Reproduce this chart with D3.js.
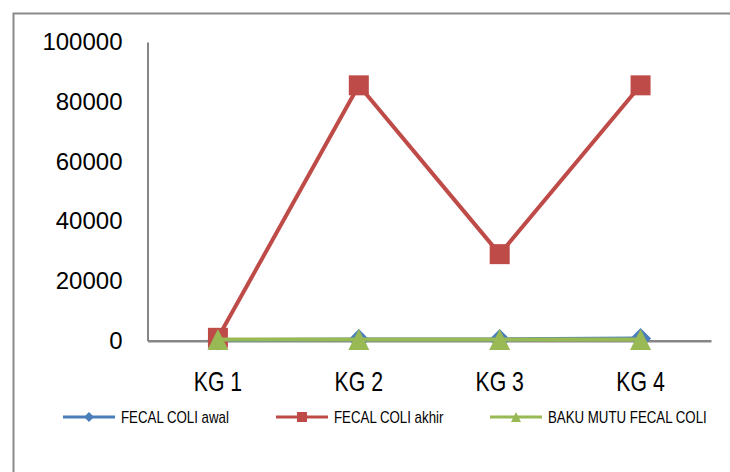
<!DOCTYPE html>
<html>
<head>
<meta charset="utf-8">
<script src="https://cdn.jsdelivr.net/npm/d3@7"></script>
<style>
  html, body { margin: 0; padding: 0; background: #fff; }
  svg { display: block; }
</style>
</head>
<body>
<svg id="chart" width="730" height="472"></svg>
<script>
// Sampling points
const categories = ["KG 1", "KG 2", "KG 3", "KG 4"];
// Fecal coli measurements per point
const fecalColiAwal = [240, 460, 460, 750];
const fecalColiAkhir = [1000, 85500, 29000, 85500];
const bakuMutu = [400, 400, 400, 400];
const yTicks = [0, 20000, 40000, 60000, 80000, 100000];

const series = [
  { name: "FECAL COLI awal", values: fecalColiAwal, color: "#4A7EBB", marker: "diamond" },
  { name: "FECAL COLI akhir", values: fecalColiAkhir, color: "#BE4B48", marker: "square" },
  { name: "BAKU MUTU FECAL COLI", values: bakuMutu, color: "#98B954", marker: "triangle" }
];

const svg = d3.select("#chart");
const plot = { left: 147.5, right: 711, top: 42, bottom: 340.8 };
const narrow = "'Liberation Sans', Arial, sans-serif";
const narrowScale = 0.82; // horizontal condensing for the narrow label style

// outer chart frame (runs off the right and bottom edges)
svg.append("rect")
  .attr("x", 13.5).attr("y", 13.5)
  .attr("width", 740).attr("height", 480)
  .attr("fill", "none").attr("stroke", "#898989").attr("stroke-width", 2);

const x = d3.scaleBand().domain(categories).range([plot.left, plot.right]);
const y = d3.scaleLinear().domain([0, 100000]).range([plot.bottom, plot.top]);

// y axis
const yAxis = svg.append("g")
  .attr("transform", `translate(${plot.left},0)`)
  .call(d3.axisLeft(y).tickValues(yTicks).tickSize(0).tickPadding(25).tickFormat(d3.format("d")));
yAxis.select(".domain").attr("stroke", "#868686").attr("stroke-width", 2);
yAxis.selectAll("text")
  .attr("font-family", "'Liberation Sans', Arial, sans-serif")
  .attr("font-size", 24).attr("fill", "#000");

// x axis
const xAxis = svg.append("g")
  .attr("transform", `translate(0,${plot.bottom})`)
  .call(d3.axisBottom(x).tickSize(0).tickPadding(31));
xAxis.select(".domain").attr("stroke", "#868686").attr("stroke-width", 2.5);
xAxis.selectAll("text")
  .attr("font-family", narrow)
  .attr("font-size", 27).attr("fill", "#000")
  .attr("transform", `scale(${narrowScale * 0.96},1)`);

const cx = d => x(d) + x.bandwidth() / 2;

function markerPath(type, s) {
  const h = s / 2;
  if (type === "square") return `M${-h},${-h}H${h}V${h}H${-h}Z`;
  if (type === "diamond") return `M0,${-h}L${h},0L0,${h}L${-h},0Z`;
  return `M0,${-h}L${h},${h}L${-h},${h}Z`;
}

const line = d3.line().x((d, i) => cx(categories[i])).y(d => y(d));

series.forEach(s => {
  const g = svg.append("g");
  g.append("path")
    .attr("d", line(s.values))
    .attr("fill", "none").attr("stroke", s.color).attr("stroke-width", 4)
    .attr("stroke-linejoin", "round");
  g.selectAll("path.m").data(s.values).join("path")
    .attr("class", "m")
    .attr("transform", (d, i) => `translate(${cx(categories[i])},${y(d)})`)
    .attr("d", markerPath(s.marker, s.marker === "square" ? 20 : 21))
    .attr("fill", s.color);
});

// legend
const legendY = 417;
const legendX = [63, 276, 490];
series.forEach((s, i) => {
  const g = svg.append("g").attr("transform", `translate(${legendX[i]},${legendY})`);
  g.append("line").attr("x1", 0).attr("x2", 52)
    .attr("stroke", s.color).attr("stroke-width", 3);
  g.append("path").attr("transform", "translate(26,0)")
    .attr("d", markerPath(s.marker, 10)).attr("fill", s.color);
  g.append("text")
    .attr("transform", `translate(58,0) scale(${narrowScale},1)`)
    .attr("dy", "0.36em")
    .attr("font-family", narrow)
    .attr("font-size", 16.2).attr("fill", "#000")
    .text(s.name);
});
</script>
</body>
</html>
